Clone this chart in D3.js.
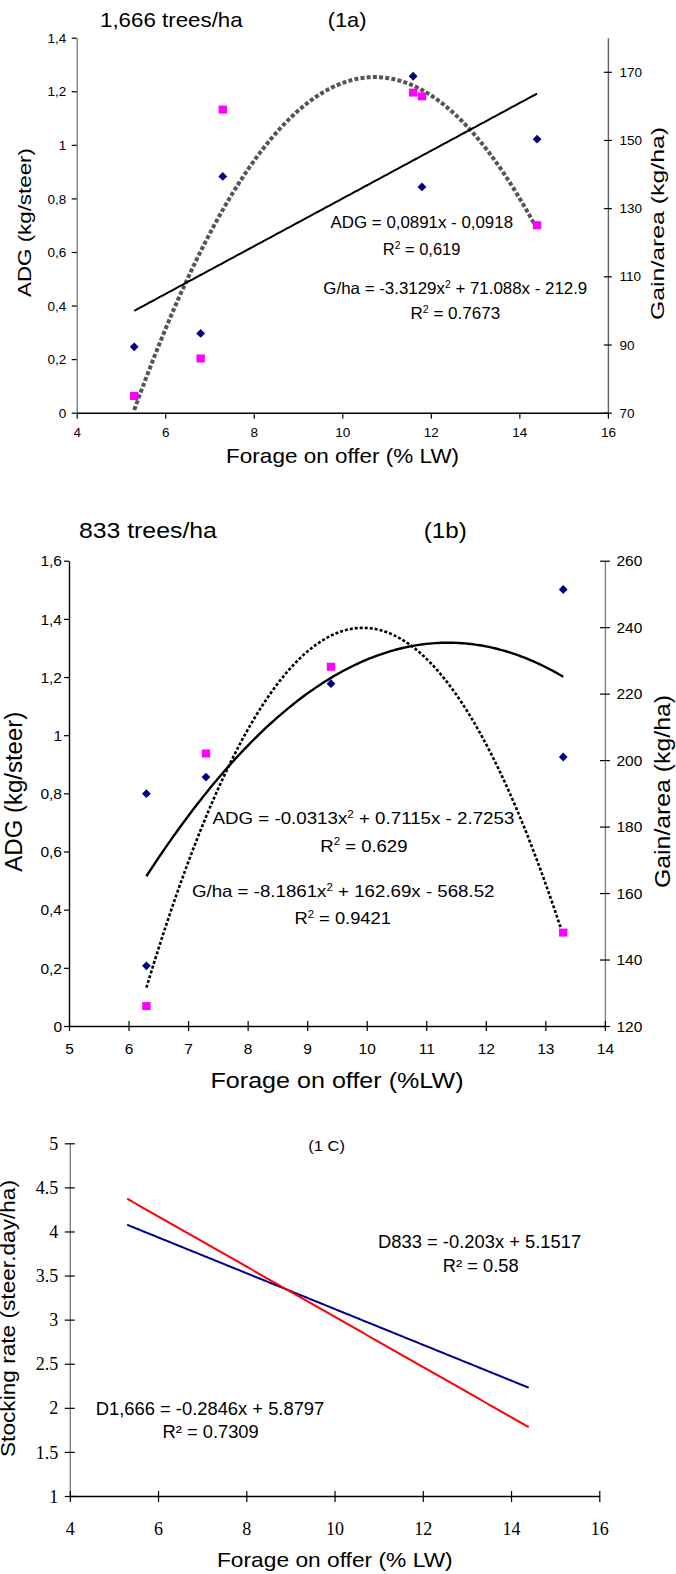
<!DOCTYPE html>
<html>
<head>
<meta charset="utf-8">
<script src="https://cdn.jsdelivr.net/npm/d3@7"></script>
<style>
  body { margin: 0; background: #fff; }
  svg { display: block; }
</style>
</head>
<body>
<svg id="chart" width="676" height="1574"></svg>
<script>
// ---- data ----
// (1a) 1,666 trees/ha
const forage1a = [5.3, 6.8, 7.3, 11.6, 11.8, 14.4];
const adg1a = [0.246, 0.296, 0.882, 1.256, 0.843, 1.021];
const gain1a = [74.9, 85.9, 158.9, 163.9, 162.8, 125.0];
const adgFit1a = [0, 0.0891, -0.0918];        // a x^2 + b x + c
const gainFit1a = [-3.3129, 71.088, -212.9];

// (1b) 833 trees/ha
const forage1b = [6.3, 6.3, 7.3, 9.4, 13.3, 13.3];
const adg1b = [0.799, 0.207, 0.856, 1.177, 1.501, 0.925];
const forageGain1b = [6.3, 7.3, 9.4, 13.3];
const gain1b = [126.0, 202.0, 228.1, 148.1];
const adgFit1b = [-0.0313, 0.7115, -2.7253];
const gainFit1b = [-8.1861, 162.69, -568.52];

// (1c) stocking rate fits
const fitRange1c = [5.3, 14.4];
const d833Fit = [0, -0.203, 5.1517];
const d1666Fit = [0, -0.2846, 5.8797];

// tick labels
const xTicks1a = [4, 6, 8, 10, 12, 14, 16];
const yTicks1a = [0, 0.2, 0.4, 0.6, 0.8, 1, 1.2, 1.4];
const rTicks1a = [70, 90, 110, 130, 150, 170];
const xTicks1b = [5, 6, 7, 8, 9, 10, 11, 12, 13, 14];
const yTicks1b = [0, 0.2, 0.4, 0.6, 0.8, 1, 1.2, 1.4, 1.6];
const rTicks1b = [120, 140, 160, 180, 200, 220, 240, 260];
const xTicks1c = [4, 6, 8, 10, 12, 14, 16];
const yTicks1c = [1, 1.5, 2, 2.5, 3, 3.5, 4, 4.5, 5];

const SANS = 'Arial, "Liberation Sans", sans-serif';
const SERIF = '"Times New Roman", "Liberation Serif", serif';
const comma = d => String(+d.toFixed(1)).replace('.', ',');

const svg = d3.select('#chart');

// polynomial value
const poly = (c, x) => c[0] * x * x + c[1] * x + c[2];

function fitPath(g, xs, ys, coef, from, to, style) {
  let pts = d3.range(from, to + 1e-9, 0.05).map(x => [x, poly(coef, x)]);
  g.append('path')
    .attr('d', d3.line().x(d => xs(d[0])).y(d => ys(d[1]))(pts))
    .attr('fill', 'none')
    .attr('stroke', style.color)
    .attr('stroke-width', style.width)
    .attr('stroke-dasharray', style.dash || null)
    .attr('stroke-linecap', 'butt');
}

// text with optional "^2" superscript, fitted to measured length
function label(g, x, y, str, o) {
  let t = g.append('text')
    .attr('transform', `translate(${x},${y})` + (o.rot ? ` rotate(${o.rot})` : ''))
    .attr('text-anchor', o.anchor || 'middle')
    .style('font-family', o.family || SANS)
    .style('font-size', o.size + 'px')
    .attr('fill', '#000');
  let parts = str.split('^2');
  parts.forEach((p, i) => {
    t.append('tspan').text(p).attr('dy', i > 0 ? o.size * 0.38 : null);
    if (i < parts.length - 1) {
      t.append('tspan').text('2').style('font-size', (o.size * 0.62) + 'px').attr('dy', -o.size * 0.38);
    }
  });
  if (o.len) t.attr('textLength', o.len).attr('lengthAdjust', 'spacingAndGlyphs');
  return t;
}

function bottomAxis(g, xs, y0, ticks, o) {
  let ax = g.append('g').attr('transform', `translate(0,${y0})`)
    .call(d3.axisBottom(xs).tickValues(ticks).tickSizeOuter(0).tickFormat(o.fmt || (d => d)));
  ax.select('.domain').attr('stroke', '#000').attr('stroke-width', 1.4);
  ax.selectAll('.tick line').attr('y1', -o.up).attr('y2', o.down).attr('stroke', '#000').attr('stroke-width', 1.2);
  ax.selectAll('.tick text').attr('y', o.textY).attr('dy', 0)
    .style('font-size', o.size + 'px').style('font-family', o.family || SANS).attr('fill', '#000');
  return ax;
}

function sideAxis(g, ys, x0, ticks, o) {
  let gen = o.right ? d3.axisRight(ys) : d3.axisLeft(ys);
  let ax = g.append('g').attr('transform', `translate(${x0},0)`)
    .call(gen.tickValues(ticks).tickSizeOuter(0).tickFormat(o.fmt || (d => d)));
  let s = o.right ? 1 : -1;
  ax.select('.domain').attr('stroke', o.color).attr('stroke-width', 1.4);
  ax.selectAll('.tick line').attr('x1', -s * o.inner).attr('x2', s * o.outer).attr('stroke', '#000').attr('stroke-width', 1.2);
  ax.selectAll('.tick text').attr('x', s * o.pad).attr('dy', '0.34em')
    .style('font-size', o.size + 'px').style('font-family', o.family || SANS).attr('fill', '#000');
  return ax;
}

function diamonds(g, xs, ys, xv, yv) {
  g.selectAll(null).data(xv.map((x, i) => [x, yv[i]])).join('path')
    .attr('transform', d => `translate(${xs(d[0])},${ys(d[1])})`)
    .attr('d', 'M0,-4.4L4.4,0L0,4.4L-4.4,0Z')
    .attr('fill', '#000080');
}

function squares(g, xs, ys, xv, yv) {
  g.selectAll(null).data(xv.map((x, i) => [x, yv[i]])).join('rect')
    .attr('x', d => xs(d[0]) - 4.2).attr('y', d => ys(d[1]) - 4)
    .attr('width', 8.4).attr('height', 8)
    .attr('fill', '#FF00FF');
}

// ================= (1a) =================
{
  const g = svg.append('g');
  const x = d3.scaleLinear().domain([4, 16]).range([76.7, 607.9]);
  const yL = d3.scaleLinear().domain([0, 1.4]).range([412.7, 37.7]);
  const yR = d3.scaleLinear().domain([70, 180]).range([412.7, 37.7]);

  sideAxis(g, yL, x.range()[0], yTicks1a, { color: '#808080', inner: 0, outer: 5, pad: 10.5, size: 13.5, fmt: comma });
  sideAxis(g, yR, x.range()[1], rTicks1a, { right: true, color: '#606060', inner: 4, outer: 4, pad: 11.5, size: 13.5 });
  bottomAxis(g, x, yL.range()[0], xTicks1a, { up: 0, down: 6, textY: 24.5, size: 13.5 });

  fitPath(g, x, yR, gainFit1a, d3.min(forage1a), d3.max(forage1a), { color: '#555', width: 4, dash: '4,2.2' });
  fitPath(g, x, yL, adgFit1a, d3.min(forage1a), d3.max(forage1a), { color: '#000', width: 2 });
  diamonds(g, x, yL, forage1a, adg1a);
  squares(g, x, yR, forage1a, gain1a);

  label(g, 100, 27, '1,666 trees/ha', { anchor: 'start', size: 21, len: 142.7 });
  label(g, 327.7, 27, '(1a)', { anchor: 'start', size: 21, len: 38.8 });
  label(g, 30.7, 222.5, 'ADG (kg/steer)', { rot: -90, size: 19, len: 149 });
  label(g, 664, 223.5, 'Gain/area (kg/ha)', { rot: -90, size: 19, len: 193 });
  label(g, 342.6, 463, 'Forage on offer (% LW)', { size: 21, len: 233 });

  label(g, 421.8, 228, 'ADG = 0,0891x - 0,0918', { size: 16.5, len: 182.4 });
  label(g, 421.6, 255, 'R^2 = 0,619', { size: 16.5, len: 77.6 });
  label(g, 455.3, 294, 'G/ha = -3.3129x^2 + 71.088x - 212.9', { size: 16.5, len: 263.9 });
  label(g, 455.3, 319, 'R^2 = 0.7673', { size: 16.5, len: 89.7 });
}

// ================= (1b) =================
{
  const g = svg.append('g');
  const x = d3.scaleLinear().domain([5, 14]).range([69, 604.9]);
  const yL = d3.scaleLinear().domain([0, 1.6]).range([1026, 560.7]);
  const yR = d3.scaleLinear().domain([120, 260]).range([1026, 560.7]);

  sideAxis(g, yL, x.range()[0], yTicks1b, { color: '#000', inner: 0, outer: 5, pad: 7, size: 15.5, fmt: comma });
  sideAxis(g, yR, x.range()[1], rTicks1b, { right: true, color: '#808080', inner: 5, outer: 5, pad: 11.6, size: 15.5 });
  bottomAxis(g, x, yL.range()[0], xTicks1b, { up: 5, down: 5, textY: 28, size: 15.5 });

  fitPath(g, x, yR, gainFit1b, d3.min(forageGain1b), d3.max(forageGain1b), { color: '#000', width: 2.6, dash: '3,2' });
  fitPath(g, x, yL, adgFit1b, d3.min(forage1b), d3.max(forage1b), { color: '#000', width: 2.4 });
  diamonds(g, x, yL, forage1b, adg1b);
  squares(g, x, yR, forageGain1b, gain1b);

  label(g, 78.9, 538, '833 trees/ha', { anchor: 'start', size: 22, len: 138 });
  label(g, 423.8, 538, '(1b)', { anchor: 'start', size: 22, len: 43 });
  label(g, 21.7, 791.7, 'ADG (kg/steer)', { rot: -90, size: 23, len: 160 });
  label(g, 670, 791.5, 'Gain/area (kg/ha)', { rot: -90, size: 22, len: 193 });
  label(g, 337, 1088, 'Forage on offer (%LW)', { size: 22, len: 253 });

  label(g, 363.4, 824, 'ADG = -0.0313x^2 + 0.7115x - 2.7253', { size: 17, len: 301.8 });
  label(g, 363.9, 851.7, 'R^2 = 0.629', { size: 17, len: 87.1 });
  label(g, 343.2, 897.3, 'G/ha = -8.1861x^2 + 162.69x - 568.52', { size: 17, len: 302.6 });
  label(g, 342.7, 924, 'R^2 = 0.9421', { size: 17, len: 96.5 });
}

// ================= (1c) =================
{
  const g = svg.append('g');
  const x = d3.scaleLinear().domain([4, 16]).range([69.8, 599.3]);
  const y = d3.scaleLinear().domain([1, 5]).range([1496, 1143.3]);

  sideAxis(g, y, x.range()[0], yTicks1c, { color: '#808080', inner: 5, outer: 5, pad: 11.6, size: 18, family: SERIF });
  bottomAxis(g, x, y.range()[0], xTicks1c, { up: 5, down: 6, textY: 38.5, size: 18, family: SERIF });

  fitPath(g, x, y, d833Fit, fitRange1c[0], fitRange1c[1], { color: '#000090', width: 2 });
  fitPath(g, x, y, d1666Fit, fitRange1c[0], fitRange1c[1], { color: '#FF0000', width: 2 });

  label(g, 326.6, 1150.7, '(1 C)', { size: 15, len: 36.7 });
  label(g, 479.6, 1247.7, 'D833 = -0.203x + 5.1517', { size: 18, len: 203 });
  label(g, 480.7, 1271.7, 'R² = 0.58', { size: 18, len: 75.8 });
  label(g, 210, 1415, 'D1,666 = -0.2846x + 5.8797', { size: 18, len: 228.5 });
  label(g, 210.6, 1438.3, 'R² = 0.7309', { size: 18, len: 96.2 });
  label(g, 15, 1318.5, 'Stocking rate (steer.day/ha)', { rot: -90, size: 21, len: 277 });
  label(g, 334.8, 1567, 'Forage on offer (% LW)', { size: 21, len: 235.8 });
}
</script>
</body>
</html>
